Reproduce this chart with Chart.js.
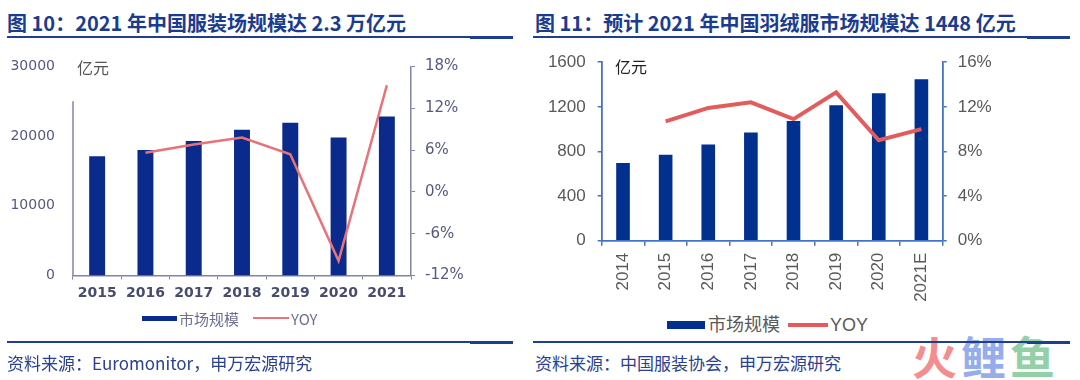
<!DOCTYPE html>
<html>
<head>
<meta charset="utf-8">
<script src="https://cdn.jsdelivr.net/npm/chart.js@4.4.1/dist/chart.umd.min.js"></script>
<style>
html,body{margin:0;padding:0;background:#fff;width:1080px;height:380px;overflow:hidden;position:relative;font-family:'Noto Sans CJK SC',sans-serif;}
.abs{position:absolute;white-space:nowrap;}
.title{font-weight:bold;font-size:20px;line-height:20px;color:#1B3C8E;}
.rule{position:absolute;background:#1E3F91;}
.src{font-size:17px;line-height:17px;color:#2B4190;}
.unit{font-size:16px;line-height:16px;}
.legend{position:absolute;display:flex;align-items:center;white-space:nowrap;}
.wm{position:absolute;font-size:45px;line-height:45px;font-weight:bold;}
canvas{display:block;}
</style>
</head>
<body>
<!-- DATA -->
<script>
// Figure 10: China apparel market
const apparelYears = ['2015','2016','2017','2018','2019','2020','2021'];
const apparelSize  = [17100, 18000, 19300, 20900, 21900, 19800, 22800];   // 亿元
const apparelYoy   = [null, 5.6, 6.8, 7.8, 5.4, -9.9, 15.3];               // %
const apparelLeftTicks  = [0, 10000, 20000, 30000];
const apparelRightTicks = [-12, -6, 0, 6, 12, 18];

// Figure 11: China down-apparel market
const downYears = ['2014','2015','2016','2017','2018','2019','2020','2021E'];
const downSize  = [697, 771, 862, 969, 1073, 1215, 1322, 1448];            // 亿元
const downYoy   = [null, 10.7, 11.9, 12.4, 10.9, 13.3, 9.0, 10.0];         // %
const downLeftTicks  = [0, 400, 800, 1200, 1600];
const downRightTicks = [0, 4, 8, 12, 16];

const seriesNames = ['市场规模', 'YOY'];
</script>

<div class="abs title" style="left:7px;top:13px;">图 10：2021 年中国服装场规模达 2.3 万亿元</div>
<div class="abs title" style="left:535px;top:13px;">图 11：预计 2021 年中国羽绒服市场规模达 1448 亿元</div>
<div class="rule" style="left:7px;top:36px;width:506px;height:2px;"></div>
<div class="rule" style="left:470px;top:36px;width:43px;height:3px;"></div>
<div class="rule" style="left:533px;top:36px;width:537px;height:2px;"></div>
<div class="rule" style="left:1027px;top:36px;width:43px;height:3px;"></div>

<div class="abs" style="left:0px;top:40px;width:470px;height:270px;"><canvas id="c1" width="470" height="270"></canvas></div>
<div class="abs" style="left:540px;top:40px;width:460px;height:270px;"><canvas id="c2" width="460" height="270"></canvas></div>

<div class="abs unit" style="left:77px;top:59px;color:#555;">亿元</div>
<div class="abs unit" style="left:615px;top:58px;color:#222;">亿元</div>

<div id="lg1" class="legend" style="left:142px;top:309px;height:18px;"></div>
<div id="lg2" class="legend" style="left:667px;top:314px;height:22px;"></div>

<div class="wm" style="left:912px;top:333px;color:rgba(242,120,120,0.85);">火</div>
<div class="wm" style="left:961px;top:333px;color:rgba(130,158,232,0.85);">鲤</div>
<div class="wm" style="left:1010px;top:333px;color:rgba(128,200,150,0.85);">鱼</div>

<div class="rule" style="left:7px;top:341px;width:506px;height:2px;"></div>
<div class="rule" style="left:470px;top:341px;width:43px;height:3px;"></div>
<div class="rule" style="left:533px;top:341px;width:537px;height:2px;"></div>
<div class="rule" style="left:1027px;top:341px;width:43px;height:3px;"></div>

<div class="abs src" style="left:7px;top:354px;">资料来源：Euromonitor，申万宏源研究</div>
<div class="abs src" style="left:535px;top:354px;">资料来源：中国服装协会，申万宏源研究</div>

<script>
function buildLegend(id, barColor, lineColor, cfg) {
  const el = document.getElementById(id);
  const mk = (html) => { const d = document.createElement('div'); d.innerHTML = html; return d.firstChild; };
  el.appendChild(mk(`<span style="display:inline-block;width:${cfg.boxW}px;height:${cfg.boxH}px;background:${barColor};margin-right:${cfg.gap}px;"></span>`));
  el.appendChild(mk(`<span style="font-size:${cfg.fs}px;line-height:${cfg.fs}px;color:${cfg.color};font-family:${cfg.family};margin-right:${cfg.between}px;">${seriesNames[0]}</span>`));
  el.appendChild(mk(`<span style="display:inline-block;width:${cfg.lineW}px;height:${cfg.lineH}px;background:${lineColor};margin-right:${cfg.gap2}px;"></span>`));
  el.appendChild(mk(`<span style="font-size:${cfg.fs}px;line-height:${cfg.fs}px;color:${cfg.color};font-family:${cfg.family};">${seriesNames[1]}</span>`));
}

const c1Bar = '#0A2B8C', c1Line = '#E8727A', c1Axis = '#7F84A8';
const c2Bar = '#01308F', c2Line = '#E25C5E', c2Axis = '#4472C4';

buildLegend('lg1', c1Bar, c1Line, {boxW:35, boxH:5, gap:2, fs:15, color:'#6B7090', family:"'Noto Sans CJK SC','DejaVu Sans',sans-serif", between:14, lineW:36, lineH:2, gap2:2});
buildLegend('lg2', c2Bar, c2Line, {boxW:38, boxH:8, gap:3, fs:18, color:'#595959', family:"'Liberation Sans','Noto Sans CJK SC',sans-serif", between:8, lineW:40, lineH:4.5, gap2:2});

const partialAxis = {
  id: 'partialAxis',
  afterDraw(chart, args, opts) {
    if (!opts || !opts.enabled) return;
    const y = chart.scales.y;
    const ctx = chart.ctx;
    ctx.save();
    ctx.strokeStyle = opts.color;
    ctx.lineWidth = opts.width;
    ctx.beginPath();
    const x = chart.chartArea.left;
    ctx.moveTo(x, y.getPixelForValue(opts.from));
    ctx.lineTo(x, y.getPixelForValue(y.min));
    ctx.stroke();
    ctx.restore();
  }
};
Chart.register(partialAxis);

function setTicks(list) {
  return (scale) => { scale.ticks = list.map(v => ({ value: v })); };
}
const plain = (v) => String(v);
const pct = (v) => v + '%';

// Chart 1
new Chart(document.getElementById('c1'), {
  data: {
    labels: apparelYears,
    datasets: [
      { type: 'line', label: seriesNames[1], data: apparelYoy, yAxisID: 'y1', borderColor: c1Line, borderWidth: 2.5, pointRadius: 0, tension: 0, spanGaps: false, order: 0 },
      { type: 'bar', label: seriesNames[0], data: apparelSize, yAxisID: 'y', backgroundColor: c1Bar, barPercentage: 0.33, categoryPercentage: 1, order: 1 }
    ]
  },
  options: {
    responsive: false, animation: false,
    layout: { padding: { top: 17.5, left: 0, right: 0, bottom: 0 } },
    plugins: { legend: { display: false }, tooltip: { enabled: false },
      partialAxis: { enabled: true, from: 25000, color: c1Axis, width: 1.5 } },
    scales: {
      x: {
        grid: { drawOnChartArea: false, drawTicks: true, tickLength: 4, color: c1Axis, offset: true },
        border: { display: true, color: c1Axis, width: 1.5 },
        ticks: { color: '#484C6C', font: { family: "'DejaVu Sans',sans-serif", size: 14, weight: 'bold' }, padding: 5, maxRotation: 0 },
        afterFit: (s) => { s.height = 34.5; }
      },
      y: {
        position: 'left', min: 0, max: 30000,
        afterBuildTicks: setTicks(apparelLeftTicks),
        grid: { display: false, drawTicks: false },
        border: { display: false },
        ticks: { color: '#555A80', font: { family: "'DejaVu Sans',sans-serif", size: 14 }, padding: 18, callback: plain },
        afterFit: (s) => { s.width = 73; }
      },
      y1: {
        position: 'right', min: -12, max: 18,
        afterBuildTicks: setTicks(apparelRightTicks),
        grid: { drawOnChartArea: false, drawTicks: true, tickLength: 4, color: c1Axis },
        border: { display: true, color: c1Axis, width: 1.5 },
        ticks: { color: '#555A80', font: { family: "'DejaVu Sans',sans-serif", size: 15 }, padding: 10, callback: pct },
        afterFit: (s) => { s.width = 59; }
      }
    }
  }
});

// Chart 2
new Chart(document.getElementById('c2'), {
  data: {
    labels: downYears,
    datasets: [
      { type: 'line', label: seriesNames[1], data: downYoy, yAxisID: 'y1', borderColor: c2Line, borderWidth: 4, pointRadius: 0, tension: 0, order: 0 },
      { type: 'bar', label: seriesNames[0], data: downSize, yAxisID: 'y', backgroundColor: c2Bar, barPercentage: 0.32, categoryPercentage: 1, order: 1 }
    ]
  },
  options: {
    responsive: false, animation: false,
    layout: { padding: { top: 20.7, left: 0, right: 0, bottom: 0 } },
    plugins: { legend: { display: false }, tooltip: { enabled: false } },
    scales: {
      x: {
        grid: { drawOnChartArea: false, drawTicks: true, tickLength: 5, color: c2Axis, lineWidth: 1.5, offset: true },
        border: { display: true, color: c2Axis, width: 1.8 },
        ticks: { color: '#595959', font: { family: "'Liberation Sans',sans-serif", size: 17 }, padding: 7, minRotation: 90, maxRotation: 90 },
        afterFit: (s) => { s.height = 69.3; }
      },
      y: {
        position: 'left', min: 0, max: 1600,
        afterBuildTicks: setTicks(downLeftTicks),
        grid: { drawOnChartArea: false, drawTicks: true, tickLength: 4, color: c2Axis, lineWidth: 1.5 },
        border: { display: true, color: c2Axis, width: 1.8 },
        ticks: { color: '#595959', font: { family: "'Liberation Sans',sans-serif", size: 17 }, padding: 12, callback: plain },
        afterFit: (s) => { s.width = 61.7; }
      },
      y1: {
        position: 'right', min: 0, max: 16,
        afterBuildTicks: setTicks(downRightTicks),
        grid: { drawOnChartArea: false, drawTicks: true, tickLength: 4, color: c2Axis, lineWidth: 1.5 },
        border: { display: true, color: c2Axis, width: 1.8 },
        ticks: { color: '#595959', font: { family: "'Liberation Sans',sans-serif", size: 17 }, padding: 11, callback: pct },
        afterFit: (s) => { s.width = 57.3; }
      }
    }
  }
});
</script>
</body>
</html>
